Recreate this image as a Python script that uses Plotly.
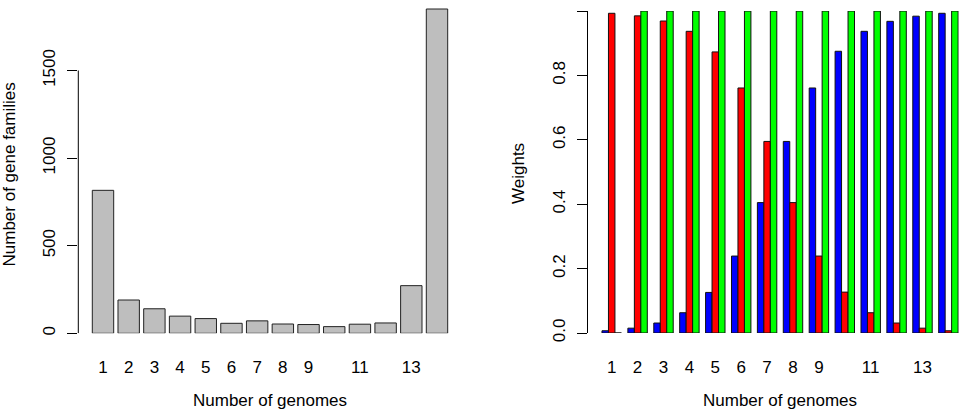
import plotly.graph_objects as go

W, H = 959, 419
H_EFF = 410  # plot height actually rendered by the viewer

# ---- data ----
genomes = list(range(1, 15))
families = [816, 190, 140, 98, 84, 57, 71, 53, 50, 38, 52, 59, 272, 1851]
tick_vals = [1, 2, 3, 4, 5, 6, 7, 8, 9, 11, 13]
tick_text = [str(v) for v in tick_vals]
w_blue = [0.007, 0.015, 0.031, 0.063, 0.126, 0.239, 0.405, 0.595, 0.761, 0.875, 0.937, 0.968, 0.984, 0.993]
w_red = [0.993, 0.985, 0.969, 0.937, 0.873, 0.761, 0.595, 0.405, 0.239, 0.127, 0.063, 0.031, 0.015, 0.007]
w_green = [0.0, 1, 1, 1, 1, 1, 1, 1, 1, 1, 1, 1, 1, 1]
left_yticks = [0, 500, 1000, 1500]
right_yticks = [0.0, 0.2, 0.4, 0.6, 0.8, 1.0]
right_yticktext = ["0.0", "0.2", "0.4", "0.6", "0.8", "1.0"]

FONT = "Liberation Sans, Arial, Helvetica, sans-serif"
FS = 17

def px(x):
    return x / W

def py(y):
    return (H_EFF - y) / H_EFF

fig = go.Figure()

fig.add_trace(go.Bar(x=genomes, y=families, width=0.833,
                     marker=dict(color="#BEBEBE", line=dict(color="#222222", width=1)),
                     xaxis="x", yaxis="y", showlegend=False))

for vals, col in [(w_blue, "#0000FF"), (w_red, "#FF0000"), (w_green, "#00FF00")]:
    fig.add_trace(go.Bar(x=genomes, y=vals,
                         marker=dict(color=col, line=dict(color="#111111", width=1)),
                         xaxis="x2", yaxis="y2", showlegend=False))

pitch_l = (437 - 103) / 13
x0_l = 1 - (103 - 78.3) / pitch_l
x1_l = 15.0
dom_l = [px(78.3), px(103 + (x1_l - 1) * pitch_l)]
ymax_l = 333.3 / (87.6 / 500)
pitch_r = (948.4 - 611.7) / 13
x0_r = 1 - (611.7 - 588.3) / pitch_r
x1_r = 14.4
dom_r = [px(588.3), px(611.7 + (x1_r - 1) * pitch_r)]

axis_font = dict(family=FONT, size=FS, color="black")

fig.update_layout(
    width=W, height=H,
    margin=dict(l=0, r=0, t=0, b=0),
    paper_bgcolor="white", plot_bgcolor="white",
    barmode="group", bargap=0.25, bargroupgap=0,
    font=dict(family=FONT, size=FS, color="black"),
    xaxis=dict(domain=dom_l, range=[x0_l, x1_l], tickvals=tick_vals, ticktext=tick_text,
               showgrid=False, zeroline=False, showline=False, ticks="",
               tickfont=axis_font, anchor="y", ticklabelstandoff=22),
    yaxis=dict(domain=[py(333.3), 1.0], range=[0, ymax_l], tickvals=left_yticks,
               showgrid=False, zeroline=False, showline=False, ticks="outside",
               ticklen=10, tickcolor="black", tickwidth=1, tickangle=-90,
               tickfont=axis_font, anchor="x", ticklabelstandoff=6),
    xaxis2=dict(domain=dom_r, range=[x0_r, x1_r], tickvals=tick_vals, ticktext=tick_text,
                showgrid=False, zeroline=False, showline=False, ticks="",
                tickfont=axis_font, anchor="y2", ticklabelstandoff=22),
    yaxis2=dict(domain=[py(333.0), py(11)], range=[0, 1.0001], tickvals=right_yticks,
                ticktext=right_yticktext,
                showgrid=False, zeroline=False, showline=True, linecolor="black", linewidth=1,
                ticks="outside", ticklen=10, tickcolor="black", tickwidth=1, tickangle=-90,
                tickfont=axis_font, anchor="x2", ticklabelstandoff=6),
)

fig.add_shape(type="line", xref="paper", yref="y", x0=px(78.3), x1=px(78.3),
              y0=left_yticks[0], y1=left_yticks[-1], line=dict(color="black", width=1))

ann = [
    dict(text="Number of genomes", x=px(269.5), y=py(400.5), xanchor="center", yanchor="middle"),
    dict(text="Number of genomes", x=px(780), y=py(400.5), xanchor="center", yanchor="middle"),
    dict(text="Number of gene families", x=px(8.5), y=py(175), textangle=-90, xanchor="center", yanchor="middle"),
    dict(text="Weights", x=px(518), y=py(174), textangle=-90, xanchor="center", yanchor="middle"),
]
for a in ann:
    fig.add_annotation(xref="paper", yref="paper", showarrow=False,
                       font=dict(family=FONT, size=FS, color="black"), **a)

post = ("document.documentElement.style.margin='0';"
        "document.body.style.margin='0';"
        "document.body.style.overflow='hidden';"
        "window.scrollTo(0,0);")
fig.write_html("out.html", config={"displayModeBar": False}, post_script=post)
